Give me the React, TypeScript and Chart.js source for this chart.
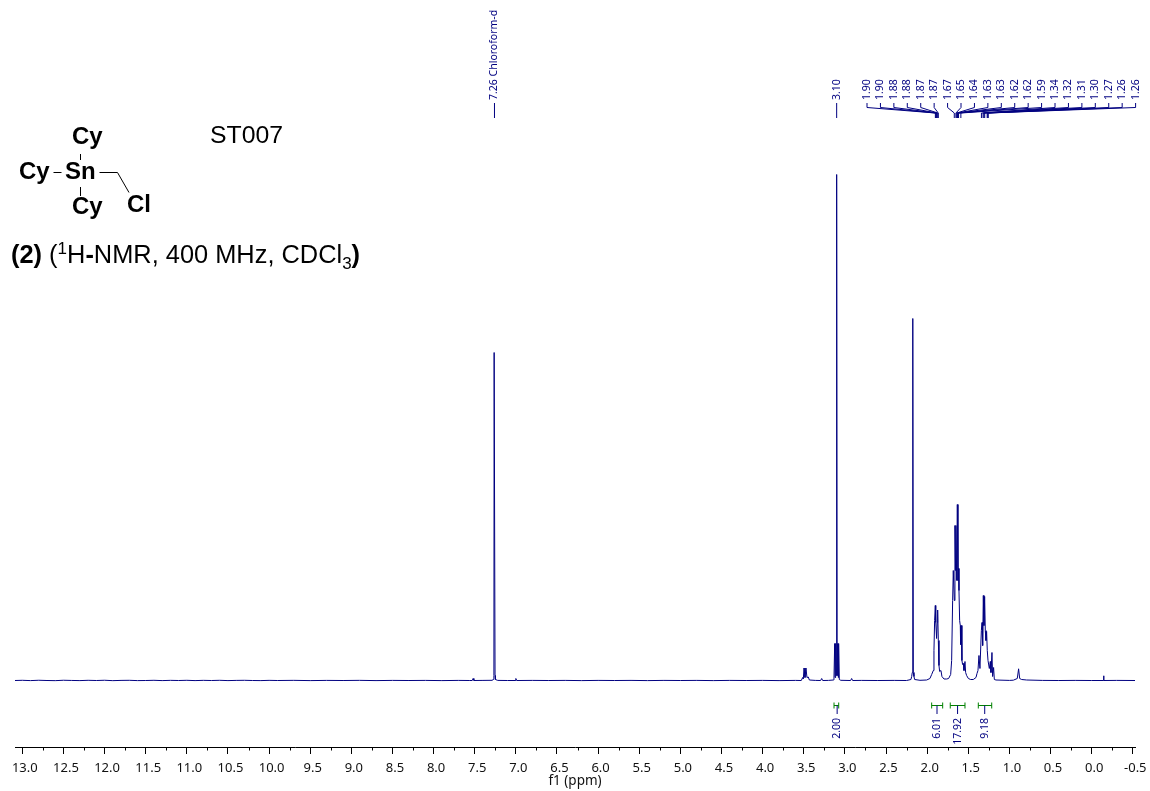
import React, { useEffect, useRef } from "react";
import { Chart, registerables } from "chart.js";

Chart.register(...registerables);

const NAVY = "#000080";
const GREEN = "#008000";
const TEXT = "#111111";

const majorTicks = [13, 12.5, 12, 11.5, 11, 10.5, 10, 9.5, 9, 8.5, 8, 7.5, 7, 6.5, 6, 5.5, 5, 4.5, 4, 3.5, 3, 2.5, 2, 1.5, 1, 0.5, 0, -0.5];
const minorTicks = [12.75, 12.25, 11.75, 11.25, 10.75, 10.25, 9.75, 9.25, 8.75, 8.25, 7.75, 7.25, 6.75, 6.25, 5.75, 5.25, 4.75, 4.25, 3.75, 3.25, 2.75, 2.25, 1.75, 1.25, 0.75, 0.25, -0.25];

const spectrumPpm = [
  13.09, 13.0, 12.9, 12.8, 12.7, 12.6, 12.5, 12.4, 12.3, 12.2, 12.1, 12.0, 11.9, 11.8, 11.7, 11.6, 11.5, 11.4, 11.3, 11.2, 11.1, 11.0, 10.9, 10.8, 10.7, 10.6, 10.5, 10.4, 10.3, 10.2, 10.1, 10.0,
  9.9, 9.7, 9.5, 9.3, 9.1, 8.9, 8.7, 8.5, 8.3, 8.1, 7.9, 7.7,
  7.56, 7.53, 7.52, 7.51, 7.4, 7.29, 7.272, 7.267, 7.264, 7.256, 7.253, 7.248, 7.22, 7.1, 7.01, 7.0, 6.99,
  6.8, 6.6, 6.4, 6.2, 6.0, 5.8, 5.6, 5.4, 5.2, 5.0, 4.8, 4.6, 4.4, 4.2, 4.0, 3.8, 3.6, 3.53,
  3.513, 3.505, 3.497, 3.485, 3.473, 3.461, 3.445, 3.432, 3.36, 3.295, 3.282, 3.27, 3.2, 3.14,
  3.133, 3.124, 3.12, 3.116, 3.112, 3.109, 3.106, 3.104, 3.096, 3.094, 3.091, 3.088, 3.084, 3.08, 3.076, 3.068, 3.05,
  2.93, 2.918, 2.906, 2.8, 2.6, 2.4, 2.25,
  2.197, 2.188, 2.181, 2.176, 2.173, 2.168, 2.16, 2.152,
  2.087, 2.006, 1.966, 1.945, 1.925, 1.917, 1.909, 1.901, 1.895, 1.885, 1.878, 1.872, 1.864, 1.856, 1.848, 1.832, 1.82, 1.795, 1.763, 1.739, 1.714, 1.702, 1.69, 1.682,
  1.674, 1.67, 1.662, 1.654, 1.65, 1.641, 1.633, 1.625, 1.617, 1.613, 1.605, 1.597, 1.593, 1.585, 1.577, 1.569, 1.56, 1.552, 1.54, 1.532, 1.52, 1.499, 1.471, 1.439,
  1.406, 1.394, 1.382, 1.37, 1.358, 1.341, 1.333, 1.325, 1.317, 1.309, 1.301, 1.293, 1.285, 1.277, 1.269, 1.26, 1.244, 1.232, 1.224, 1.212, 1.204, 1.192, 1.183, 1.163,
  1.0, 0.952, 0.904, 0.888, 0.875, 0.851, 0.79, 0.6, 0.4, 0.2, 0.0, -0.14, -0.145, -0.15, -0.3, -0.527,
];
const spectrumHeight = [
  0, 0.2, -0.1, 0.25, 0, -0.15, 0.25, 0.05, -0.1, 0.2, 0, 0.25, -0.15, 0.1, 0.2, -0.1, 0, 0.2, -0.1, 0.15, 0, 0.2, -0.1, 0.15, 0, 0.2, -0.1, 0.1, 0.2, 0, -0.1, 0.15,
  0, 0.15, -0.1, 0.1, 0, 0.15, -0.1, 0.1, 0, 0.1, -0.1, 0.1,
  0, 0, 2, 0, 0.1, 0.2, 1, 5, 328, 328, 5, 1, 0.1, 0, 0, 2, 0,
  0.1, 0, 0.1, -0.1, 0.1, 0, 0.1, -0.1, 0.1, 0, 0.1, -0.1, 0.1, 0, 0.1, -0.1, 0.1, 0,
  3, 1.5, 12.5, 3, 12.5, 3, 3.5, 0.5, 0.1, 0, 2, 0, 0.1, 0.5,
  1, 37, 3, 37, 6, 37, 5, 506, 506, 5, 37, 6, 37, 3, 37, 1, 0.2,
  0, 2, 0, 0.1, 0, 0.1, 0,
  1, 4, 8, 362, 362, 8, 4, 1,
  0.2, 0.5, 2, 6, 10, 30, 60, 75, 58, 42, 58, 70.5, 40, 15, 9, 10, 4, 1.5, 1.5, 2, 6, 20, 80, 110,
  110, 80, 155, 110, 155, 100, 176, 100, 112, 90, 60, 55, 36, 55, 20, 16, 17, 10, 19, 8, 5, 2, 1, 1,
  3, 7, 10, 25, 12, 50, 58, 35, 85, 55, 84, 50, 40, 49, 30, 20, 12, 19, 8, 28, 4, 13, 1, 0.5,
  0.1, 0.3, 2, 11.7, 2, 1, 0.5, 0.1, 0, 0.1, 0, 0, 4.7, 0, 0.1, 0,
];

const treeLabels = ["1.90", "1.90", "1.88", "1.88", "1.87", "1.87", "1.67", "1.65", "1.64", "1.63", "1.63", "1.62", "1.62", "1.59", "1.34", "1.32", "1.31", "1.30", "1.27", "1.26", "1.26"];
const treePpm = [1.9, 1.895, 1.885, 1.88, 1.87, 1.865, 1.67, 1.65, 1.64, 1.635, 1.63, 1.622, 1.618, 1.59, 1.34, 1.32, 1.31, 1.3, 1.27, 1.262, 1.258];

const singleLabels = ["7.26 Chloroform-d", "3.10"];
const singlePpm = [7.26, 3.1];

const integralLabels = ["2.00", "6.01", "17.92", "9.18"];
const integralFrom = [3.132, 1.945, 1.719, 1.378];
const integralTo = [3.075, 1.811, 1.54, 1.215];
const integralCentre = [3.094, 1.88, 1.63, 1.3];

const SMALL_FONT = '10.5px "Noto Sans"';

const annotations = {
  id: "annotations",
  afterDatasetsDraw(chart: any) {
    const { ctx, scales } = chart;
    const x = scales.x;
    const px = (v: number) => x.getPixelForValue(v);
    const vText = (s: string, cx: number, y: number, align: CanvasTextAlign) => {
      ctx.save();
      ctx.translate(cx, y);
      ctx.rotate(-Math.PI / 2);
      ctx.textAlign = align;
      ctx.textBaseline = "middle";
      ctx.fillStyle = NAVY;
      ctx.font = SMALL_FONT;
      ctx.fillText(s, 0, 0);
      ctx.restore();
    };
    const line = (pts: number[][], color: string) => {
      ctx.beginPath();
      pts.forEach((p, i) => (i ? ctx.lineTo(p[0], p[1]) : ctx.moveTo(p[0], p[1])));
      ctx.strokeStyle = color;
      ctx.lineWidth = 1;
      ctx.stroke();
    };
    ctx.save();

    minorTicks.forEach((t) => {
      const m = Math.round(px(t)) + 0.5;
      line([[m, 747], [m, 750.5]], "#000");
    });

    singleLabels.forEach((s, i) => {
      const m = px(singlePpm[i]);
      line([[m, 103], [m, 118]], NAVY);
      vText(s, m, 100, "left");
    });

    treeLabels.forEach((s, i) => {
      const lx = 867 + i * 13.43;
      const f = px(treePpm[i]);
      line([[lx, 103], [lx, 107.5], [f, 113], [f, 118]], NAVY);
      vText(s, lx, 100, "left");
    });

    integralLabels.forEach((s, i) => {
      const a = px(integralFrom[i]);
      const b = px(integralTo[i]);
      const c = px(integralCentre[i]);
      line([[a, 702.5], [a, 708.5]], GREEN);
      line([[b, 702.5], [b, 708.5]], GREEN);
      line([[a, 705.5], [b, 705.5]], GREEN);
      line([[c, 705.5], [c, 714]], NAVY);
      vText(s, c, 718, "right");
    });

    ctx.restore();
  },
};

const bold: React.CSSProperties = { fontWeight: 700 };
const abs = (left: number, baseline: number, size: number): React.CSSProperties => ({
  position: "absolute",
  left,
  top: baseline - 0.9465 * size,
  fontSize: size,
  lineHeight: `${size * 1.2}px`,
  fontFamily: '"Liberation Sans", Arial, sans-serif',
  color: "#000",
  whiteSpace: "nowrap",
});

export default function App() {
  const ref = useRef<HTMLCanvasElement>(null);

  useEffect(() => {
    const chart = new Chart(ref.current as HTMLCanvasElement, {
      type: "line",
      data: {
        datasets: [
          {
            label: "1H NMR",
            data: spectrumPpm.map((p, i) => ({ x: p, y: spectrumHeight[i] })),
            borderColor: NAVY,
            borderWidth: 1,
            pointRadius: 0,
            tension: 0,
            fill: false,
          },
        ],
      },
      options: {
        animation: false,
        responsive: false,
        layout: { padding: { left: 15, right: 15, top: 0, bottom: 0 } },
        plugins: { legend: { display: false }, tooltip: { enabled: false } },
        scales: {
          x: {
            type: "linear",
            reverse: true,
            min: -0.527,
            max: 13.089,
            afterBuildTicks(scale: any) {
              scale.ticks = majorTicks.map((value) => ({ value }));
            },
            afterFit(scale: any) {
              scale.height = 44;
              scale.paddingLeft = 0;
              scale.paddingRight = 0;
            },
            grid: { drawOnChartArea: false, drawTicks: true, tickLength: 7, color: "#000", tickWidth: 1 },
            border: { display: true, color: "#000", width: 1 },
            ticks: {
              autoSkip: false,
              maxRotation: 0,
              minRotation: 0,
              padding: 6,
              labelOffset: 2.5,
              color: TEXT,
              font: { family: '"Noto Sans"', size: 13 },
              callback: (v: any) => Number(v).toFixed(1),
            },
            title: {
              display: true,
              text: "f1 (ppm)",
              color: TEXT,
              font: { family: '"Noto Sans"', size: 13.5 },
              padding: { top: 0, bottom: 2 },
            },
          },
          y: { type: "linear", display: false, min: -66.5, max: 680.5 },
        },
      },
      plugins: [annotations],
    } as any);
    return () => chart.destroy();
  }, []);

  return (
    <div style={{ position: "absolute", left: 0, top: 0, width: 1150, height: 791, background: "#fff", overflow: "hidden" }}>
      <canvas ref={ref} width={1150} height={791} style={{ display: "block", position: "absolute", left: 0, top: 0 }} />
      <svg width={1150} height={791} style={{ position: "absolute", left: 0, top: 0, pointerEvents: "none" }}>
        <g stroke="#000" strokeWidth={1} fill="none">
          <path d="M53.5 172.5H61.5" />
          <path d="M80.5 154V160" />
          <path d="M80.5 187V196" />
          <path d="M99.5 172.5H117.5L129 192.5" />
        </g>
      </svg>
      <div style={{ ...abs(72, 145, 24), ...bold }}>Cy</div>
      <div style={{ ...abs(19, 180, 24), ...bold }}>Cy</div>
      <div style={{ ...abs(65, 180, 24), ...bold }}>Sn</div>
      <div style={{ ...abs(72, 215, 24), ...bold }}>Cy</div>
      <div style={{ ...abs(127, 213, 24), ...bold }}>Cl</div>
      <div style={abs(210, 143.5, 24.8)}>ST007</div>
      <div style={abs(11, 263, 25.4)}>
        <span style={bold}>(2)</span> (<sup style={{ fontSize: 17, lineHeight: 0 }}>1</sup>H<span style={bold}>-</span>NMR, 400 MHz, CDCl
        <sub style={{ fontSize: 17, lineHeight: 0 }}>3</sub>
        <span style={bold}>)</span>
      </div>
    </div>
  );
}
